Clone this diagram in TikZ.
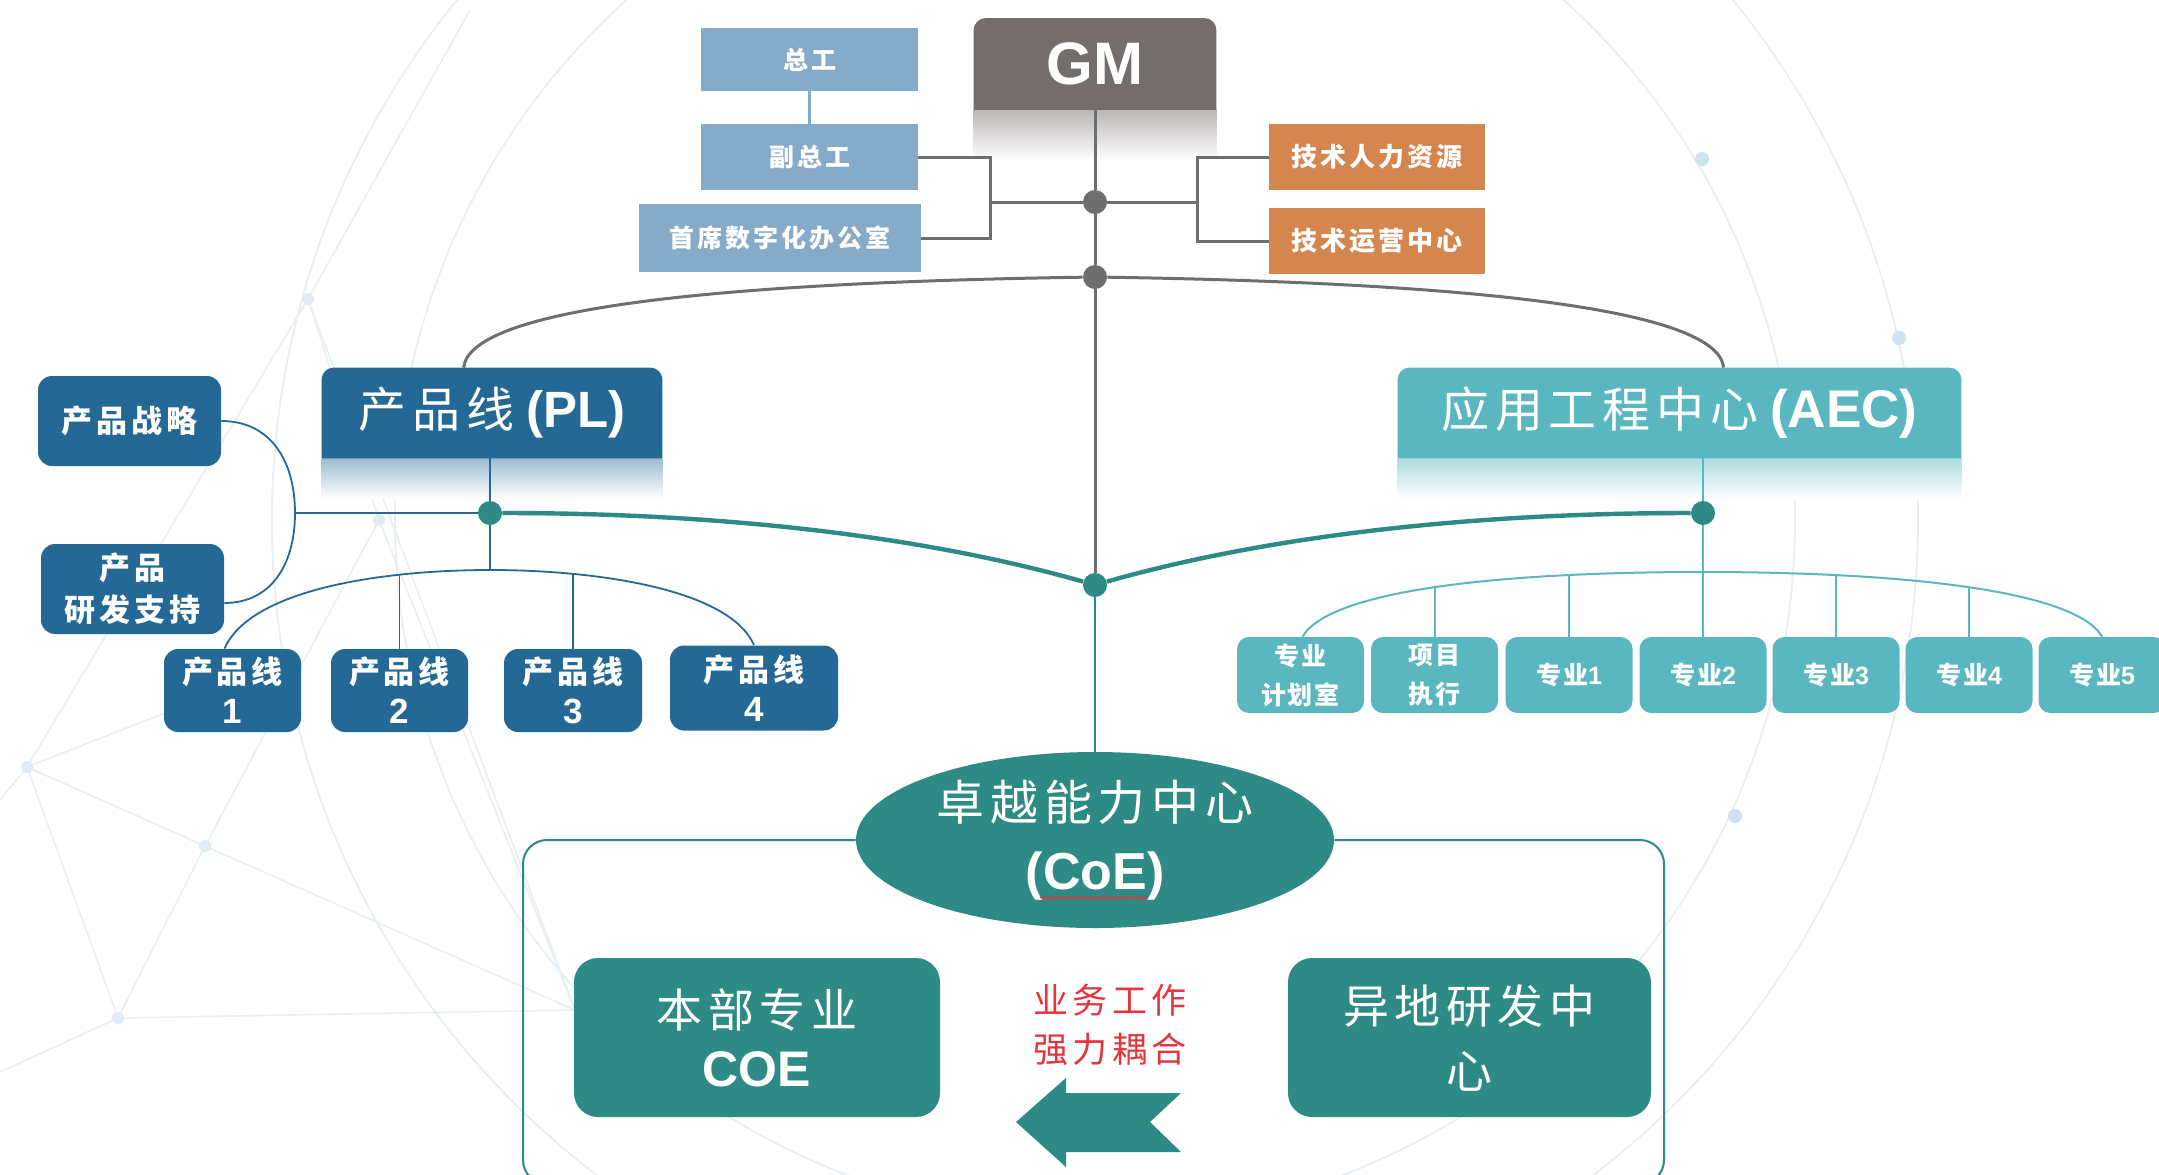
\documentclass[tikz,border=0pt]{standalone}
\usepackage{fontspec}
\setmainfont{Liberation Sans}
\newfontfamily\cjk{Noto Sans CJK SC}
\newfontfamily\cjks[LetterSpace=12]{Noto Sans CJK SC}
\newfontfamily\cjkm[LetterSpace=8]{Noto Sans CJK SC}
\usetikzlibrary{calc,shapes.geometric,decorations.pathmorphing}
\pgfdeclarelayer{deco}
\pgfdeclarelayer{bg}
\pgfdeclarelayer{boxes}
\pgfsetlayers{deco,bg,boxes,main}
\definecolor{gmc}{HTML}{736E6C}
\definecolor{lbc}{HTML}{85ABC9}
\definecolor{orc}{HTML}{D5864F}
\definecolor{plc}{HTML}{246996}
\definecolor{aecc}{HTML}{5BB7BF}
\definecolor{coec}{HTML}{2E8A85}
\definecolor{grl}{HTML}{6E6E6E}
\definecolor{redt}{HTML}{E4353D}
\definecolor{netc}{HTML}{E8EFF4}
\definecolor{dotc}{HTML}{CFE3EF}
\newcommand{\lat}[1]{{\rmfamily\bfseries #1}}
\newcommand{\bignum}[1]{{\rmfamily\bfseries\fontsize{17.5pt}{20pt}\selectfont #1}}
\tikzset{
  lbbox/.style={fill=lbc, inner sep=0, text=white, font=\cjks\bfseries\fontsize{12.5pt}{15pt}\selectfont},
  orbox/.style={fill=orc, inner sep=0, minimum width=108pt, minimum height=33pt, text=white, font=\cjks\bfseries\fontsize{13pt}{15pt}\selectfont},
  hdr/.style={inner sep=0, text=white},
  plbox/.style={fill=plc, rounded corners=7pt, inner sep=0, text=white, align=center},
  aecbox/.style={fill=aecc, rounded corners=6pt, inner sep=0, minimum width=63.5pt, minimum height=38pt, text=white, align=center, font=\cjkm\bfseries\fontsize{12.5pt}{19.5pt}\selectfont},
  coebox/.style={fill=coec, rounded corners=12pt, inner sep=0, minimum height=79.5pt, text=white, align=center},
  gdot/.style={circle, fill=grl, minimum size=12pt, inner sep=0},
  tdot/.style={circle, fill=coec, minimum size=12pt, inner sep=0},
  glin/.style={draw=grl, line width=1.5pt},
  lblin/.style={draw=lbc, line width=1.2pt},
  plin/.style={draw=plc, line width=0.9pt},
  alin/.style={draw=aecc, line width=1pt},
  tlin/.style={draw=coec, line width=1.3pt},
  tthick/.style={draw=coec, line width=2.2pt},
  netl/.style={draw=netc, line width=0.8pt},
}
\begin{document}
\begin{tikzpicture}[x=0.5pt,y=-0.5pt]
\useasboundingbox (0,0) rectangle (2159,1174);

% ---------- nodes ----------
\node[lbbox, minimum width=108.5pt, minimum height=31.5pt] (zg) at (809.5,59.5) {总工};
\node[lbbox, minimum width=108.5pt, minimum height=33pt] (fzg) at (809.5,157) {副总工};
\node[lbbox, minimum width=141pt, minimum height=34pt] (sx) at (779.5,238) {首席数字化办公室};
\node[hdr, minimum width=121pt, minimum height=45.5pt, font=\bfseries\fontsize{30pt}{30pt}\selectfont] (gm) at (1095,64) {GM};
\node[orbox] (thr) at (1377,157) {技术人力资源};
\node[orbox] (tyy) at (1377,241) {技术运营中心};
\node[gdot] (d1) at (1095,202) {};
\node[gdot] (d2) at (1095,277) {};
\node[tdot] (d3) at (1095,585) {};
\node[tdot] (dpl) at (490,513) {};
\node[tdot] (daec) at (1703,513) {};
\coordinate (bl) at (990,202);
\coordinate (br) at (1197,202);
\coordinate (brk) at (295,513);
\coordinate (plj) at (490,570);
\coordinate (aj) at (1703,572);

\node[hdr, minimum width=170pt, minimum height=45pt] (pl) at (492,413)
  {{\cjks\fontsize{24pt}{26pt}\selectfont 产品线}\hspace{6pt}{\bfseries\fontsize{25.5pt}{26pt}\selectfont (PL)}};
\node[hdr, minimum width=281.5pt, minimum height=45pt] (aec) at (1679.5,413)
  {{\cjks\fontsize{24pt}{26pt}\selectfont 应用工程中心}\hspace{6pt}{\bfseries\fontsize{26.5pt}{26pt}\selectfont (AEC)}};

\node[plbox, minimum width=91.5pt, minimum height=45pt, font=\cjks\bfseries\fontsize{15.5pt}{21pt}\selectfont] (prz) at (129.5,421) {产品战略};
\node[plbox, minimum width=91.5pt, minimum height=45pt, font=\cjks\bfseries\fontsize{15.5pt}{21pt}\selectfont] (pryf) at (132.5,589) {产品\\研发支持};
\node[plbox, minimum width=68.5pt, minimum height=41.5pt, font=\cjks\bfseries\fontsize{15.5pt}{20pt}\selectfont] (pl1) at (232.5,690.5) {产品线\\\bignum{1}};
\node[plbox, minimum width=68.5pt, minimum height=41.5pt, font=\cjks\bfseries\fontsize{15.5pt}{20pt}\selectfont] (pl2) at (399.5,690.5) {产品线\\\bignum{2}};
\node[plbox, minimum width=69pt, minimum height=41.5pt, font=\cjks\bfseries\fontsize{15.5pt}{20pt}\selectfont] (pl3) at (573,690.5) {产品线\\\bignum{3}};
\node[plbox, minimum width=84pt, minimum height=42.5pt, font=\cjks\bfseries\fontsize{15.5pt}{20pt}\selectfont] (pl4) at (754,688) {产品线\\\bignum{4}};

\node[aecbox] (a0) at (1300.5,675) {专业\\计划室};
\node[aecbox] (a1) at (1434.5,675) {项目\\执行};
\node[aecbox] (a2) at (1569,675) {专业\lat{1}};
\node[aecbox] (a3) at (1703,675) {专业\lat{2}};
\node[aecbox] (a4) at (1836,675) {专业\lat{3}};
\node[aecbox] (a5) at (1969,675) {专业\lat{4}};
\node[aecbox] (a6) at (2102,675) {专业\lat{5}};

\node[ellipse, fill=coec, minimum width=239pt, minimum height=88pt, inner sep=0, text=white, align=center,
      font=\fontsize{24pt}{34.5pt}\selectfont] (coe) at (1095,840)
  {{\cjks 卓越能力中心}\\{\bfseries\fontsize{26pt}{34.5pt}\selectfont (CoE)}};
\node[coebox, minimum width=183pt, font=\fontsize{23pt}{29.5pt}\selectfont] (bb) at (757,1037.5)
  {{\cjks 本部专业}\\{\bfseries\fontsize{25pt}{29.5pt}\selectfont COE}};
\node[coebox, minimum width=181.5pt, font=\cjks\fontsize{23pt}{32.5pt}\selectfont] (yd) at (1469.5,1037.5) {异地研发中\\心};
\node[inner sep=0, text=redt, align=center, font=\cjks\fontsize{17.5pt}{24.5pt}\selectfont] (rt) at (1110,1025) {业务工作\\强力耦合};

% ---------- header fills (top corners rounded) ----------
\begin{pgfonlayer}{boxes}
\fill[gmc] (gm.south west) [rounded corners=6pt] -- (gm.north west) -- (gm.north east) [sharp corners] -- (gm.south east) -- cycle;
\fill[plc] (pl.south west) [rounded corners=6pt] -- (pl.north west) -- (pl.north east) [sharp corners] -- (pl.south east) -- cycle;
\fill[aecc] (aec.south west) [rounded corners=6pt] -- (aec.north west) -- (aec.north east) [sharp corners] -- (aec.south east) -- cycle;
% arrow
\fill[coec] (1016,1122) -- (1066,1078) -- (1066,1093) -- (1181,1093) -- (1150,1122) -- (1181,1152) -- (1066,1152) -- (1066,1167) -- cycle;
\end{pgfonlayer}
\draw[redt, line width=0.6pt, decorate, decoration={zigzag, segment length=2.5pt, amplitude=0.7pt}] (1040,898) -- (1148,898);

% ---------- background decoration ----------
\begin{pgfonlayer}{deco}
\fill[white] (0,0) rectangle (2159,1174);
\draw[netl, line width=0.9pt] (1095,520) circle[radius=700];
\draw[netl, line width=0.9pt] (1095,520) circle[radius=823];
\coordinate (nA) at (308,299);
\coordinate (nB) at (379,520);
\coordinate (nC) at (27,767);
\coordinate (nD) at (205,846);
\coordinate (nE) at (118,1018);
\coordinate (nF) at (575,1010);
\draw[netl] (nA) -- (nC);
\draw[netl] (nA) -- (nB);
\draw[netl] (nA) -- (nF);
\draw[netl] (nB) -- (nD) -- (nE);
\draw[netl] (nB) -- (nF);
\draw[netl] (nC) -- (nD) -- (nF);
\draw[netl] (nC) -- (nE) -- (nF);
\draw[netl] (nC) -- (300,660);
\draw[netl] (nC) -- (0,800);
\draw[netl] (nE) -- (0,1072);
\draw[netl] (nA) -- (470,10);
\foreach \p in {nA,nB,nC,nD,nE} \fill[netc!70!dotc] (\p) circle[radius=6];
\fill[dotc] (1702,159) circle[radius=7];
\fill[dotc] (1899,338) circle[radius=7];
\fill[dotc] (1735,816) circle[radius=7];
% reflections
\shade[top color=gmc!50!white, bottom color=white] (gm.south west) rectangle ($(gm.south east)+(0,50)$);
\shade[top color=plc!45!white, bottom color=white] (pl.south west) rectangle ($(pl.south east)+(0,40)$);
\shade[top color=aecc!50!white, bottom color=white] (aec.south west) rectangle ($(aec.south east)+(0,40)$);
\end{pgfonlayer}

% ---------- connectors ----------
\begin{pgfonlayer}{bg}
\draw[lblin] (zg) -- (fzg);
\draw[glin] (gm.south) -- (d1) -- (d2) -- (d3);
\draw[tlin] (d3) -- (coe.north);
\draw[glin] (fzg.east) -| (bl) |- (sx.east);
\draw[glin] (d1) -- (bl);
\draw[glin] (d1) -- (br);
\draw[glin] (thr.west) -| (br) |- (tyy.west);
\draw[glin] (d2) .. controls (700,283) and (470,310) .. ($(pl.north west)+(142,0)$);
\draw[glin] (d2) .. controls (1480,283) and (1718,310) .. ($(aec.north west)+(326,0)$);
\draw[tthick] (dpl) .. controls (800,513) and (990,555) .. (d3);
\draw[tthick] (daec) .. controls (1390,513) and (1200,555) .. (d3);
% PL branch
\draw[plin] (pl.south -| dpl) -- (dpl) -- (plj);
\draw[plin] (brk) -- (dpl);
\draw[plin] (prz.east) .. controls (270,421) and (295,460) .. (brk) .. controls (295,566) and (270,603) .. ($(pryf.east)+(0,14)$);
\draw[plin] ($(pl1.north)+(-8,0)$) .. controls (250,590) and (380,570) .. (plj) .. controls (600,570) and (730,590) .. (pl4.north);
\draw[plin] (pl2.north) -- (pl2.north |- 0,575);
\draw[plin] (pl3.north) -- (pl3.north |- 0,574);
% AEC branch
\draw[alin] (aec.south -| daec) -- (daec) -- (aj) -- (a3.north);
\draw[alin] ($(a0.north)+(2,0)$) .. controls (1330,590) and (1500,572) .. (aj) .. controls (1900,572) and (2075,590) .. (a6.north);
\draw[alin] (a1.north) -- (a1.north |- 0,587);
\draw[alin] (a2.north) -- (a2.north |- 0,575);
\draw[alin] (a4.north) -- (a4.north |- 0,575);
\draw[alin] (a5.north) -- (a5.north |- 0,587);
% CoE frame
\draw[tlin, line width=1pt, rounded corners=12pt] (coe.west) -- (523,840) -- (523,1184) -- (1664,1184) -- (1664,840) -- (coe.east);
\end{pgfonlayer}
\end{tikzpicture}
\end{document}
